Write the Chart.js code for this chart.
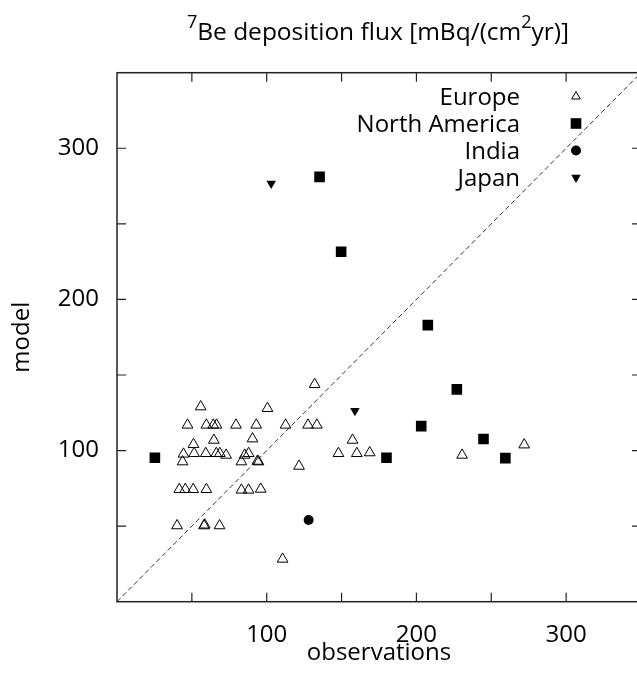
<!DOCTYPE html>
<html>
<head>
<meta charset="utf-8">
<script src="https://cdn.jsdelivr.net/npm/chart.js@4.4.0/dist/chart.umd.min.js"></script>
<style>
  html, body { margin: 0; padding: 0; background: #fff; overflow: hidden; }
  canvas { display: block; }
</style>
</head>
<body>
<canvas id="myChart" width="660" height="683"></canvas>
<script>
// observations (x) vs model (y), mBq/(cm2 yr)
const europeObs = [132.0, 55.9, 100.5, 47.1, 59.7, 64.3, 66.5, 79.5, 93.0, 112.6, 127.6, 133.5,
  64.7, 90.5, 51.1, 157.3, 44.4, 51.5, 59.3, 66.3, 68.7, 72.9, 85.3, 87.9, 147.9, 160.2, 168.8,
  43.8, 83.1, 93.8, 94.5, 121.6, 41.6, 45.6, 50.9, 59.7, 83.1, 87.9, 96.0,
  40.1, 58.1, 58.6, 68.5, 110.6, 272.0, 230.5];
const europeModel = [143.8, 129.0, 127.9, 116.9, 116.9, 116.9, 116.9, 116.9, 116.9, 116.9, 116.9, 116.9,
  106.9, 107.8, 104.1, 106.9, 97.7, 98.1, 98.1, 98.1, 98.1, 97.0, 97.0, 98.1, 98.1, 98.1, 98.6,
  92.6, 92.6, 93.0, 92.6, 89.7, 74.3, 74.3, 74.3, 74.3, 73.9, 73.9, 74.5,
  50.3, 50.3, 50.8, 50.3, 28.2, 103.8, 97.0];

const naObs = [25.3, 135.3, 149.7, 207.6, 227.0, 203.2, 244.8, 259.4, 180.0];
const naModel = [95.2, 281.1, 231.5, 183.0, 140.5, 116.2, 107.6, 95.0, 95.2];

const indiaObs = [128.0];
const indiaModel = [54.0];

const japanObs = [103.0, 158.9];
const japanModel = [276.7, 126.3];

const diagObs = [0, 350];
const diagModel = [0, 350];

const tickValues = [50, 100, 150, 200, 250, 300];
const tickLabels = [100, 200, 300];

const FONT = "'Open Sans', sans-serif";
Chart.defaults.font.family = FONT;
Chart.defaults.color = '#000';

function toPoints(xs, ys) {
  return xs.map((x, i) => ({ x: x, y: ys[i] }));
}

function tickText(v) {
  return tickLabels.includes(v) ? String(v) : '';
}

// gnuplot-like box with inward ticks on all sides
const framePlugin = {
  id: 'frame',
  afterDraw(chart) {
    const { ctx, chartArea: a, scales: { x, y } } = chart;
    ctx.save();
    ctx.strokeStyle = '#222';
    ctx.lineWidth = 1.2;
    ctx.beginPath();
    tickValues.forEach(v => {
      const px = x.getPixelForValue(v);
      ctx.moveTo(px, a.bottom); ctx.lineTo(px, a.bottom - 9);
      ctx.moveTo(px, a.top); ctx.lineTo(px, a.top + 9);
      const py = y.getPixelForValue(v);
      ctx.moveTo(a.left, py); ctx.lineTo(a.left + 9, py);
      ctx.moveTo(a.right, py); ctx.lineTo(a.right - 9, py);
    });
    ctx.stroke();
    ctx.lineWidth = 1.5;
    ctx.strokeRect(a.left, a.top, a.right - a.left, a.bottom - a.top);
    ctx.restore();
  }
};

// key in top right: text right aligned, symbol after it
const keyPlugin = {
  id: 'key',
  afterDraw(chart) {
    const ctx = chart.ctx;
    ctx.save();
    ctx.font = '24px ' + FONT;
    ctx.textAlign = 'right';
    ctx.textBaseline = 'alphabetic';
    let row = 0;
    chart.data.datasets.forEach(ds => {
      if (!ds.inKey) return;
      const cy = 96.5 + row * 27;
      ctx.fillStyle = '#000';
      ctx.fillText(ds.label, 520, cy + 8.5);
      ctx.fillStyle = ds.backgroundColor;
      ctx.strokeStyle = ds.borderColor;
      ctx.lineWidth = ds.borderWidth;
      Chart.helpers.drawPoint(ctx, {
        pointStyle: ds.pointStyle,
        radius: ds.keyRadius || ds.pointRadius,
        rotation: ds.rotation || 0,
        borderWidth: ds.borderWidth
      }, 576, cy);
      row++;
    });
    ctx.restore();
  }
};

// title with superscripts
const titlePlugin = {
  id: 'supTitle',
  afterDraw(chart) {
    const ctx = chart.ctx;
    const parts = [
      { t: '7', sup: true },
      { t: 'Be deposition flux [mBq/(cm', sup: false },
      { t: '2', sup: true },
      { t: 'yr)]', sup: false }
    ];
    const big = '24.5px ' + FONT, small = '18px ' + FONT;
    ctx.save();
    ctx.fillStyle = '#000';
    ctx.textBaseline = 'alphabetic';
    ctx.textAlign = 'left';
    let total = 0;
    parts.forEach(p => { ctx.font = p.sup ? small : big; p.w = ctx.measureText(p.t).width; total += p.w; });
    let x = 378 - total / 2;
    const base = 40;
    parts.forEach(p => {
      ctx.font = p.sup ? small : big;
      ctx.fillText(p.t, x, p.sup ? base - 12 : base);
      x += p.w;
    });
    ctx.restore();
  }
};

new Chart(document.getElementById('myChart'), {
  type: 'scatter',
  data: {
    datasets: [
      {
        label: 'Europe',
        inKey: true,
        data: toPoints(europeObs, europeModel),
        pointStyle: 'triangle',
        pointRadius: 6.2,
        keyRadius: 5,
        backgroundColor: 'rgba(255,255,255,0)',
        borderColor: '#000',
        borderWidth: 1
      },
      {
        label: 'North America',
        inKey: true,
        data: toPoints(naObs, naModel),
        pointStyle: 'rect',
        pointRadius: 7.5,
        backgroundColor: '#000',
        borderColor: '#000',
        borderWidth: 0
      },
      {
        label: 'India',
        inKey: true,
        data: toPoints(indiaObs, indiaModel),
        pointStyle: 'circle',
        pointRadius: 5,
        backgroundColor: '#000',
        borderColor: '#000',
        borderWidth: 0
      },
      {
        label: 'Japan',
        inKey: true,
        data: toPoints(japanObs, japanModel),
        pointStyle: 'triangle',
        rotation: 180,
        pointRotation: 180,
        pointRadius: 5.5,
        backgroundColor: '#000',
        borderColor: '#000',
        borderWidth: 0
      },
      {
        label: '1:1',
        type: 'line',
        data: toPoints(diagObs, diagModel),
        showLine: true,
        borderColor: '#333',
        borderWidth: 1,
        borderDash: [5, 3],
        pointRadius: 0,
        fill: false
      }
    ]
  },
  options: {
    responsive: false,
    animation: false,
    devicePixelRatio: 1,
    layout: { padding: { left: 0, right: 14, top: 72.7, bottom: 0 } },
    plugins: {
      legend: { display: false },
      tooltip: { enabled: false }
    },
    scales: {
      x: {
        type: 'linear',
        min: 0,
        max: 350,
        grid: { display: false, drawTicks: false },
        border: { display: false },
        ticks: { stepSize: 50, autoSkip: false, maxRotation: 0, padding: 19,
          font: { size: 24 }, callback: tickText },
        title: { display: true, text: 'observations', font: { size: 24 },
          padding: { top: 0, bottom: 15 } },
        afterFit(scale) { scale.height = 81.3; }
      },
      y: {
        type: 'linear',
        min: 0,
        max: 350,
        grid: { display: false, drawTicks: false },
        border: { display: false },
        ticks: { stepSize: 50, autoSkip: false, padding: 18,
          font: { size: 24 }, callback: tickText },
        title: { display: true, text: 'model', font: { size: 24 },
          padding: { top: 8, bottom: 0 } },
        afterFit(scale) { scale.width = 117; }
      }
    }
  },
  plugins: [framePlugin, keyPlugin, titlePlugin]
});
</script>
</body>
</html>
